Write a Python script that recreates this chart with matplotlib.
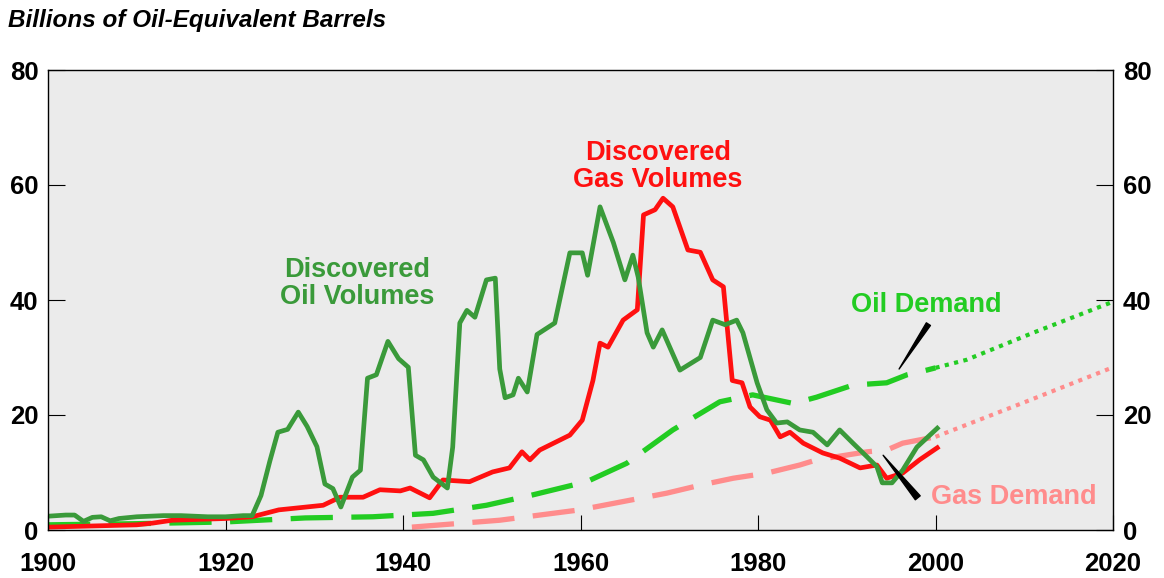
import matplotlib
matplotlib.use("Agg")
import matplotlib.pyplot as plt

plt.rcParams['font.family'] = ['Liberation Sans', 'DejaVu Sans']

# Discovered oil volumes (billions of oil-equivalent barrels)
oil_disc_years = [1900, 1902, 1903, 1904, 1905, 1906, 1907, 1908, 1910, 1913, 1915, 1918, 1920, 1922, 1923,
                  1924, 1925, 1925.9, 1927, 1928.2, 1929.2, 1930.3, 1931.2, 1932.1, 1933, 1934.3, 1935.2,
                  1936, 1937, 1938.3, 1939.5, 1940.6, 1941.4, 1942.3, 1943.4, 1945, 1945.6, 1946.4, 1947.2,
                  1948.1, 1949.4, 1950.4, 1950.9, 1951.5, 1952.4, 1953, 1954, 1955.1, 1957.1, 1958.8, 1960.2,
                  1960.8, 1962.2, 1963.7, 1965, 1965.9, 1966.5, 1967.5, 1968.2, 1969.2, 1971.2, 1973.5, 1974.9,
                  1976.3, 1977.6, 1978.3, 1979.9, 1981, 1982.1, 1983.3, 1984.7, 1986.2, 1987.8, 1989.2, 1990.7,
                  1992.3, 1993.4, 1994, 1995.1, 1996.3, 1997.9, 2000.2]
oil_disc_vals = [2.4, 2.6, 2.6, 1.5, 2.2, 2.3, 1.6, 2.0, 2.3, 2.5, 2.5, 2.3, 2.3, 2.5, 2.5,
                 6, 12, 17, 17.5, 20.5, 18, 14.5, 8, 7.2, 4, 9.2, 10.4,
                 26.4, 27, 32.8, 29.8, 28.3, 13, 12.2, 9.2, 7.3, 14.4, 36, 38.2,
                 37, 43.5, 43.8, 28, 23, 23.5, 26.4, 24, 34, 36, 48.2, 48.2,
                 44.3, 56.2, 50, 43.5, 47.8, 44, 34.3, 31.8, 34.8, 27.8, 30, 36.5,
                 35.7, 36.5, 34.3, 25.6, 20.9, 18.6, 18.8, 17.4, 17, 14.8, 17.4, 15.1,
                 12.7, 11, 8.2, 8.2, 10.4, 14.4, 17.7]

# Discovered gas volumes
gas_disc_years = [1900, 1905, 1910, 1911.8, 1914, 1920, 1923, 1926, 1931, 1932.9, 1935.5, 1937.4, 1939.7,
                  1940.8, 1943, 1944.5, 1947.5, 1950.1, 1952, 1953.4, 1954.3, 1955.4, 1958.8, 1960.2, 1961.4,
                  1962.2, 1963.1, 1964.8, 1966.4, 1967.1, 1968.4, 1969.3, 1970.4, 1972.1, 1973.5, 1974.9,
                  1976.1, 1977.1, 1978.2, 1979.1, 1980.2, 1981.4, 1982.5, 1983.6, 1985.1, 1987.3, 1989.2,
                  1991.5, 1993.4, 1994.5, 1996.3, 1998.2, 2000.2]
gas_disc_vals = [0.5, 0.7, 0.9, 1.2, 1.7, 2.0, 2.3, 3.5, 4.3, 5.7, 5.7, 7, 6.8,
                 7.3, 5.6, 8.7, 8.4, 10.1, 10.8, 13.6, 12.2, 13.9, 16.5, 19.1, 26,
                 32.5, 31.8, 36.5, 38.3, 54.8, 55.7, 57.7, 56.2, 48.7, 48.3, 43.5,
                 42.3, 26, 25.6, 21.4, 19.7, 19.1, 16.2, 17, 15.1, 13.4, 12.5,
                 10.8, 11.3, 9, 9.9, 12.2, 14.3]

# Oil demand: history and projection
oil_dem_years = [1900, 1910, 1920, 1929, 1936.6, 1940, 1943.4, 1949.4, 1954.6, 1960.7, 1965.2, 1970.4,
                 1975.7, 1979.4, 1984, 1986.6, 1990.7, 1994.5, 1996.8, 1999, 2000]
oil_dem_vals = [0.9, 1.1, 1.4, 2.1, 2.3, 2.6, 2.9, 4.3, 6.1, 8.4, 11.6, 17.4,
                22.3, 23.5, 22, 23.1, 25.2, 25.6, 27, 27.8, 28.2]
oil_proj_years = [2000, 2003.5, 2011, 2020]
oil_proj_vals = [28.2, 29.6, 34.3, 39.7]

# Gas demand: history and projection
gas_dem_years = [1941, 1950.9, 1959.9, 1969.7, 1973.5, 1977.2, 1981, 1984.7, 1986.6, 1992.3, 1994.5, 1996.3, 2000]
gas_dem_vals = [0.5, 1.7, 3.5, 6.4, 7.8, 9, 9.9, 11.3, 12.2, 13.6, 13.9, 15.1, 16.2]
gas_proj_years = [2000, 2010, 2020]
gas_proj_vals = [16.2, 22.2, 28.3]

x_ticks = [1900, 1920, 1940, 1960, 1980, 2000, 2020]
y_ticks = [0, 20, 40, 60, 80]

dark_green = '#3a9a3a'
bright_green = '#22cc22'
red = '#ff1010'
pink = '#ff8c8c'

fig = plt.figure(figsize=(11.64, 5.78), dpi=100)
ax = fig.add_axes([48 / 1164, 48 / 578, 1065 / 1164, 460 / 578])
ax.set_facecolor('#ebebeb')

ax.plot(oil_dem_years, oil_dem_vals, color=bright_green, lw=3.8, dashes=(8, 3.5))
ax.plot(oil_proj_years, oil_proj_vals, color=bright_green, lw=3, linestyle=(0, (1, 1.3)))
ax.plot(gas_dem_years, gas_dem_vals, color=pink, lw=3.8, dashes=(8, 3.5))
ax.plot(gas_proj_years, gas_proj_vals, color=pink, lw=3, linestyle=(0, (1, 1.3)))
ax.plot(gas_disc_years, gas_disc_vals, color=red, lw=3.4, solid_joinstyle='round')
ax.plot(oil_disc_years, oil_disc_vals, color=dark_green, lw=3.4, solid_joinstyle='round')

ax.set_xlim(1900, 2020)
ax.set_ylim(0, 80)
ax.set_xticks(x_ticks)
ax.set_yticks(y_ticks)
ax.yaxis.set_ticks_position('both')
ax.tick_params(axis='y', direction='in', length=12, width=0.8, labelsize=18.5, pad=7,
               labelright=True)
ax.tick_params(axis='x', direction='in', length=11, width=0.8, labelsize=18.5, pad=16)
for lab in ax.get_xticklabels() + ax.get_yticklabels():
    lab.set_fontweight('bold')
for t in ax.yaxis.get_major_ticks():
    t.label2.set_fontweight('bold')
for s in ax.spines.values():
    s.set_linewidth(1.0)

ax.text(1934.8, 42.8, 'Discovered\nOil Volumes', color=dark_green, fontsize=19.5, fontweight='bold',
        ha='center', va='center', linespacing=1.05)
ax.text(1968.7, 63.3, 'Discovered\nGas Volumes', color=red, fontsize=19.5, fontweight='bold',
        ha='center', va='center', linespacing=1.05)
ax.text(1999, 39.1, 'Oil Demand', color=bright_green, fontsize=19.5, fontweight='bold',
        ha='center', va='center')
ax.text(2008.8, 5.7, 'Gas Demand', color=pink, fontsize=19.5, fontweight='bold',
        ha='center', va='center')

ax.annotate('', xy=(1995.9, 28.0), xytext=(1999.2, 35.8),
            arrowprops=dict(arrowstyle='wedge,tail_width=0.35', color='black',
                            shrinkA=0, shrinkB=0, mutation_scale=10))
ax.annotate('', xy=(1994.1, 13.0), xytext=(1998.0, 5.6),
            arrowprops=dict(arrowstyle='wedge,tail_width=0.45', color='black',
                            shrinkA=0, shrinkB=0, mutation_scale=10))

fig.text(0.007, 1 - 27 / 578, 'Billions of Oil-Equivalent Barrels', fontsize=17.5,
         fontweight='bold', fontstyle='italic', ha='left', va='baseline')

fig.savefig('out.png', dpi=100)
